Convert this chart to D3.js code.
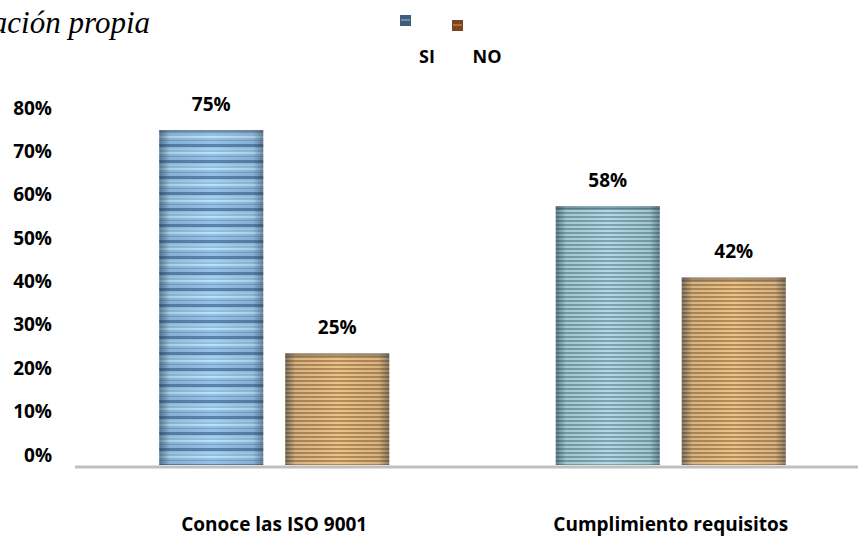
<!DOCTYPE html>
<html lang="es">
  <head>
    <meta charset="UTF-8" />
    <style>
      body {
        margin: 0;
        background: #fff;
      }
      svg {
        font-family: "Open Sans", Lato, sans-serif;
        font-weight: bold;
      }
      .axis .domain,
      .axis line {
        display: none;
      }
    </style>
    <script src="https://d3js.org/d3.v7.min.js"></script>
    <title>Conoce las ISO 9001</title>
  </head>
  <body>
    <script>
      // data
      var categories = ["Conoce las ISO 9001", "Cumplimiento requisitos"];
      var series = ["SI", "NO"];
      var siValues = [0.75, 0.58];
      var noValues = [0.25, 0.42];
      var tickValues = [0, 0.1, 0.2, 0.3, 0.4, 0.5, 0.6, 0.7, 0.8];

      var width = 858,
        height = 538;

      var data = categories.map(function (c, i) {
        return { cat: c, SI: siValues[i], NO: noValues[i] };
      });

      var svg = d3
        .select("body")
        .append("svg")
        .attr("width", width)
        .attr("height", height);

      var defs = svg.append("defs");

      // striped fills, one per look seen in the picture
      function stripes(id, h, base, bands) {
        var p = defs
          .append("pattern")
          .attr("id", id)
          .attr("patternUnits", "userSpaceOnUse")
          .attr("width", 10)
          .attr("height", h);
        p.append("rect").attr("width", 10).attr("height", h).attr("fill", base);
        bands.forEach(function (b) {
          p.append("rect")
            .attr("y", b[0])
            .attr("width", 10)
            .attr("height", b[1])
            .attr("fill", b[2]);
        });
      }
      stripes("si0", 16, "#94bfe6", [
        [0, 3, "#5a84a8"],
        [4, 2, "#a6d0ee"],
        [8, 2, "#bde2f2"],
        [12, 1, "#7aa5c8"],
      ]);
      stripes("si1", 4, "#b0dae4", [[0, 2, "#7fa3b0"]]);
      stripes("no", 4, "#e9c48c", [[0, 2, "#b88a55"]]);

      // darker side edges, like a rounded bevel
      var shade = defs
        .append("linearGradient")
        .attr("id", "shade")
        .attr("x1", 0)
        .attr("x2", 1)
        .attr("y1", 0)
        .attr("y2", 0);
      [
        [0, 0.5],
        [0.1, 0.1],
        [0.5, 0],
        [0.9, 0.1],
        [1, 0.45],
      ].forEach(function (s) {
        shade
          .append("stop")
          .attr("offset", s[0])
          .attr("stop-color", "#1a2a3a")
          .attr("stop-opacity", s[1]);
      });

      var x0 = d3.scaleBand().domain(categories).range([76, 869]).padding(0);
      var groupW = 230;
      var x1 = d3
        .scaleBand()
        .domain(series)
        .range([0, groupW])
        .paddingInner(22 / 126)
        .paddingOuter(0);

      var y = d3.scaleLinear().domain([0, 0.8]).range([465, 108]);
      // tick labels sit a bit higher than the bar scale near zero
      var yLab = y.copy().range([455, 108]);

      // y axis labels
      svg
        .append("g")
        .attr("class", "axis")
        .attr("transform", "translate(52,0)")
        .call(
          d3
            .axisLeft(yLab)
            .tickValues(tickValues)
            .tickSize(0)
            .tickPadding(0)
            .tickFormat(d3.format(".0%"))
        )
        .selectAll("text")
        .style("font-size", "19px")
        .style("font-family", "'Open Sans', sans-serif")
        .attr("fill", "#000");

      function fillFor(s, i) {
        if (s === "NO") return "url(#no)";
        return i === 0 ? "url(#si0)" : "url(#si1)";
      }

      var groups = svg
        .selectAll(".grp")
        .data(data)
        .enter()
        .append("g")
        .attr("class", "grp")
        .attr("transform", function (d) {
          return (
            "translate(" + (x0(d.cat) + (x0.bandwidth() - groupW) / 2) + ",0)"
          );
        });

      groups.each(function (d, i) {
        var g = d3.select(this);
        series.forEach(function (s) {
          var bx = x1(s),
            bw = x1.bandwidth(),
            by = y(d[s]),
            bh = y(0) - y(d[s]);
          g.append("rect")
            .attr("x", bx)
            .attr("y", by)
            .attr("width", bw)
            .attr("height", bh)
            .attr("fill", fillFor(s, i));
          g.append("rect")
            .attr("x", bx)
            .attr("y", by)
            .attr("width", bw)
            .attr("height", bh)
            .attr("fill", "url(#shade)");
          g.append("rect")
            .attr("x", bx)
            .attr("y", by)
            .attr("width", bw)
            .attr("height", 3)
            .attr("fill", "#2a3a4a")
            .attr("opacity", 0.35);
          g.append("text")
            .attr("x", bx + bw / 2)
            .attr("y", by - 26)
            .attr("dy", "0.35em")
            .attr("text-anchor", "middle")
            .style("font-size", "19px")
            .text(d3.format(".0%")(d[s]));
        });
      });

      // baseline
      svg
        .append("line")
        .attr("x1", 75)
        .attr("x2", width)
        .attr("y1", y(0) + 2)
        .attr("y2", y(0) + 2)
        .attr("stroke", "#bfbfbf")
        .attr("stroke-width", 3);

      // category labels
      svg
        .selectAll(".cat")
        .data(categories)
        .enter()
        .append("text")
        .attr("class", "cat")
        .attr("x", function (d) {
          return x0(d) + x0.bandwidth() / 2;
        })
        .attr("y", 531)
        .attr("text-anchor", "middle")
        .style("font-size", "19px")
        .text(function (d) {
          return d;
        });

      // legend
      var legend = [
        { key: "SI", mx: 400, my: 15, tx: 427, c1: "#3e5f7c", c2: "#6f8fab" },
        { key: "NO", mx: 452, my: 20, tx: 487, c1: "#7a4420", c2: "#b46a34" },
      ];
      legend.forEach(function (l) {
        svg
          .append("rect")
          .attr("x", l.mx)
          .attr("y", l.my)
          .attr("width", 11)
          .attr("height", 11)
          .attr("fill", l.c1);
        svg
          .append("rect")
          .attr("x", l.mx + 1)
          .attr("y", l.my + 4)
          .attr("width", 9)
          .attr("height", 2)
          .attr("fill", l.c2);
        svg
          .append("text")
          .attr("x", l.tx)
          .attr("y", 63)
          .attr("text-anchor", "middle")
          .style("font-size", "18px")
          .text(l.key);
      });

      // source note, cut at the left edge as in the picture
      svg
        .append("text")
        .attr("x", 150)
        .attr("y", 33)
        .attr("text-anchor", "end")
        .style("font-family", "'Liberation Serif', 'DejaVu Serif', serif")
        .style("font-style", "italic")
        .style("font-weight", "normal")
        .style("font-size", "31px")
        .text("Elaboración propia");
    </script>
  </body>
</html>
